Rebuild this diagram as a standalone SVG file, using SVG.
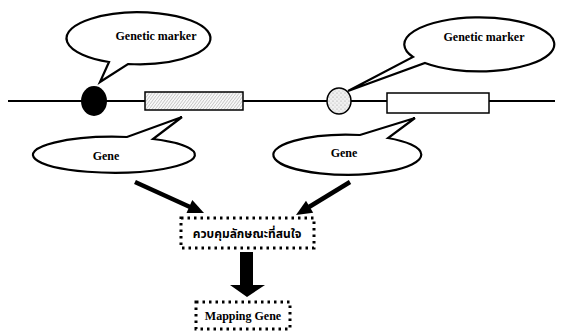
<svg xmlns="http://www.w3.org/2000/svg" width="562" height="333" viewBox="0 0 562 333">
  <style>
    .bubble { fill: #fff; stroke: #000; stroke-width: 2.2; stroke-linejoin: miter; }
    .lbl { font-family: "Liberation Serif", "Times New Roman", serif; font-weight: bold; font-size: 12px; fill: #000; text-anchor: middle; }
    .box { fill: #fff; stroke: #000; stroke-width: 3; stroke-dasharray: 2.5 4; }
    .conn { stroke: #000; stroke-width: 4.5; fill: none; }
  </style>
  <defs>
    <pattern id="hatch" width="6" height="4" patternUnits="userSpaceOnUse">
      <rect width="6" height="4" fill="#f7f7f7"/>
      <path d="M0 4 L3 0 M3 4 L6 0" stroke="#b0b0b0" stroke-width="0.7"/>
    </pattern>
    <pattern id="stipple" width="4" height="4" patternUnits="userSpaceOnUse">
      <rect width="4" height="4" fill="#f0f0f0"/>
      <circle cx="1" cy="1" r="0.6" fill="#999"/>
      <circle cx="3" cy="3" r="0.6" fill="#bbb"/>
    </pattern>
  </defs>

  <!-- chromosome line -->
  <g id="chromosome">
    <line x1="8" y1="101" x2="555" y2="101" stroke="#000" stroke-width="2"/>
  </g>

  <g id="marker1">
    <ellipse cx="94" cy="101" rx="13" ry="15" fill="#000"/>
  </g>
  <g id="gene1">
    <rect x="145" y="92" width="98" height="18" fill="url(#hatch)" stroke="#000" stroke-width="1.5"/>
  </g>
  <g id="marker2">
    <ellipse cx="339" cy="101" rx="12" ry="13" fill="url(#stipple)" stroke="#000" stroke-width="1.5"/>
  </g>
  <g id="gene2">
    <rect x="387" y="93" width="102" height="20" fill="#fff" stroke="#000" stroke-width="1.5"/>
  </g>

  <!-- callouts -->
  <g id="callout-marker1">
    <path class="bubble" d="M109 62 A72 26 0 1 1 128 64 L100 82 Z"/>
    <text class="lbl" x="156" y="40">Genetic marker</text>
  </g>
  <g id="callout-marker2">
    <path class="bubble" d="M413 57 A75 27 0 1 1 425 63 L348 91 Z"/>
    <text class="lbl" x="484" y="41">Genetic marker</text>
  </g>
  <g id="callout-gene1">
    <path class="bubble" d="M153 139 A81 18 0 1 1 127 137 L182 117 Z"/>
    <text class="lbl" x="106" y="160">Gene</text>
  </g>
  <g id="callout-gene2">
    <path class="bubble" d="M388 138 A74 20 0 1 1 360 135 L415 118 Z"/>
    <text class="lbl" x="344" y="157">Gene</text>
  </g>

  <!-- connectors -->
  <g id="connectors">
    <line class="conn" x1="135" y1="182" x2="190" y2="207"/>
    <polygon points="204,213 186.5,212.9 192.3,200.1" fill="#000"/>
    <line class="conn" x1="350" y1="182" x2="309" y2="207"/>
    <polygon points="296,215 306,200.7 313.2,212.7" fill="#000"/>
    <path d="M240 252 H253 V285 H265 L247 297 L230 285 H240 Z" fill="#000"/>
  </g>

  <g id="trait-box">
    <rect class="box" x="181" y="218" width="133" height="30"/>
    <text x="247" y="238" font-family="'Noto Sans Thai', 'DejaVu Sans', sans-serif" font-size="12" font-weight="bold" text-anchor="middle">ควบคุมลักษณะที่สนใจ</text>
  </g>

  <g id="mapping-box">
    <rect class="box" x="196" y="302" width="94" height="27"/>
    <text class="lbl" x="243" y="320">Mapping  Gene</text>
  </g>
</svg>
